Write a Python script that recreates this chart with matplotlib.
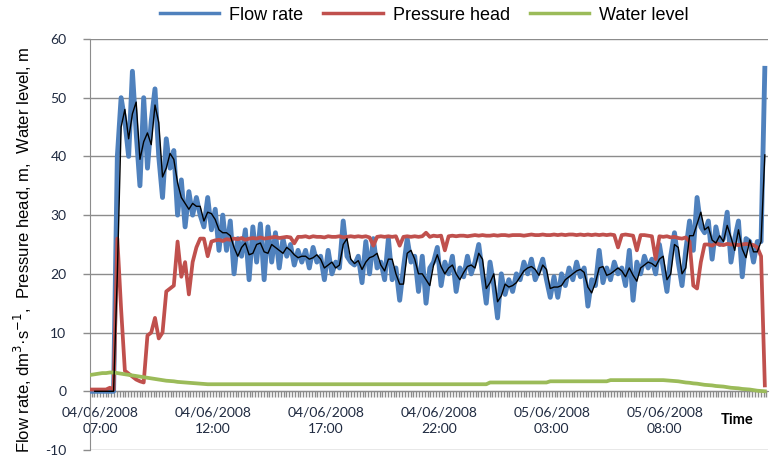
import numpy as np
import matplotlib.pyplot as plt
from matplotlib.ticker import MultipleLocator, FixedLocator

plt.rcParams['axes.unicode_minus'] = False

# readings every 10 min, first one at 06:36 on 04/06/2008 (hours counted from 07:00)
start_hour = -0.4
step_hour = 1 / 6

flow_rate = [
    0, 0, 0, 0, 0, 0, 0, 40, 50, 46,
    40, 54.5, 44, 35, 50, 38, 46, 51.5, 40, 33,
    43, 38, 41, 30, 36, 28, 34, 30, 33, 30,
    28, 33, 27.5, 31, 24, 30, 24, 29, 20, 26,
    23, 27.5, 19, 28, 22, 28.5, 19, 28, 22, 27,
    21, 26, 23, 25, 21.5, 24, 22, 24, 21, 24.5,
    22, 23, 19, 24, 20, 22, 21, 29, 23, 22,
    21.5, 23, 18.5, 25.5, 20, 26, 21, 22, 19, 26,
    19, 21, 15.5, 21, 26, 22, 23, 17, 23, 15,
    21, 22, 24.5, 18, 22, 20, 23, 17, 21, 19.5,
    23, 20, 22, 25, 20, 15, 22, 18, 12.5, 20,
    16.5, 19, 17, 20, 19, 22, 20, 22.5, 19, 20.5,
    22.5, 19, 16, 19.5, 16, 20, 18, 21, 19, 22,
    19.5, 21, 14.5, 19, 18, 24, 18.5, 21, 19, 22,
    20, 21, 18, 24, 15.5, 22, 20, 23, 21, 22.5,
    20, 25, 21, 17, 23, 27, 22, 18, 24, 29,
    24, 33, 28, 27, 29, 22.5, 28, 25, 26, 30.5,
    22, 26, 29, 19.5, 26, 25.5, 22, 25.5, 25.5, 55,
]

pressure_head = [
    0.3, 0.3, 0.3, 0.3, 0.3, 0.6, 0.3, 26, 14, 3.5,
    3, 2.5, 2, 1.7, 1.5, 9.5, 10, 12.5, 9, 10,
    17, 17.5, 18, 25.5, 19.5, 22, 16.5, 22, 24.5, 26,
    26, 23, 25.5, 25.7, 25.8, 25.6, 25.9, 25.8, 26, 25.9,
    26.1, 25.8, 26, 26.1, 26, 26.2, 26, 26.1, 26.2, 26.3,
    26.1, 26.2, 26.3, 26.2, 25.2, 26.3, 26.3, 26.4, 26.2, 26.4,
    26.3, 26.3, 26.2, 26.4, 26.3, 26.3, 26.4, 26.2, 26.3, 26.4,
    26.3, 26.4, 26.3, 26.4, 26.2, 24.8, 26.3, 26.4, 26.3, 26.4,
    26.3, 26.4, 24.8, 26.3, 26.4, 26.3, 26.4, 26.3, 26.4, 27,
    26.3, 26.5, 26.4, 26.5, 24, 26.4, 26.5, 26.4, 26.5, 26.5,
    26.4, 26.5, 26.6, 26.5, 26.6, 26.5, 26.5, 26.6, 26.5, 26.6,
    26.6, 26.5, 26.6, 26.6, 26.6, 26.5, 26.6, 26.7, 26.6, 26.6,
    26.7, 26.6, 26.6, 26.7, 26.6, 26.7, 26.6, 26.7, 26.7, 26.6,
    26.7, 26.6, 26.7, 26.6, 26.7, 26.6, 26.7, 26.6, 26.7, 26.6,
    24.5, 26.6, 26.7, 26.6, 26.5, 24, 26.6, 26.6, 26.5, 26.4,
    22.5, 26.4, 26.3, 26.4, 26.2, 26.3, 26.1, 26, 26.2, 25.5,
    18, 17.5, 22, 25, 25, 24.8, 25.2, 25, 24.9, 25.1,
    25, 25, 24.9, 25, 25.1, 25, 24.9, 24.5, 23, 1,
]

water_level = (
    [2.8, 2.9, 3.0, 3.1, 3.1, 3.2, 3.2, 3.1, 3.0, 2.9,
     2.8, 2.7, 2.6, 2.5, 2.4, 2.3, 2.2, 2.1, 2.0, 1.9,
     1.8, 1.75, 1.7, 1.6, 1.55, 1.5, 1.45, 1.4, 1.35, 1.3,
     1.25]
    + [1.2] * 75
    + [1.5] * 16
    + [1.7] * 16
    + [1.9] * 15
    + [1.85, 1.8, 1.75, 1.7, 1.6, 1.5, 1.45, 1.35, 1.3, 1.2,
       1.1, 1.05, 1.0, 0.9, 0.85, 0.8, 0.7, 0.6, 0.55, 0.5,
       0.4, 0.35, 0.3, 0.2, 0.1, 0.05, 0]
)

tick_hours = [0, 5, 10, 15, 20, 25]
tick_labels = ['04/06/2008\n07:00', '04/06/2008\n12:00', '04/06/2008\n17:00',
               '04/06/2008\n22:00', '05/06/2008\n03:00', '05/06/2008\n08:00']

flow = np.array(flow_rate)
hours = start_hour + np.arange(len(flow)) * step_hour
# 2-period moving average (the black trend line)
flow_ma = (flow[1:] + flow[:-1]) / 2

blue = '#4F81BD'
red = '#C0504D'
green = '#9BBB59'
grid_c = '#8C8C8C'
txt_c = '#1F2A40'

fig = plt.figure(figsize=(7.7, 4.59), dpi=100)
ax = fig.add_axes([0.117, 0.0196, 0.88, 0.8955])

l1, = ax.plot(hours, flow, color=blue, lw=3.5, solid_joinstyle='round', zorder=3, label='Flow rate')
l2, = ax.plot(hours, pressure_head, color=red, lw=2.7, solid_joinstyle='round', zorder=4, label='Pressure head')
l3, = ax.plot(hours, water_level, color=green, lw=2.7, zorder=5, label='Water level')
ax.plot(hours[1:], flow_ma, color='black', lw=1.0, zorder=6)

ax.set_xlim(-0.44, 29.56)
ax.set_ylim(-10, 60)
ax.yaxis.set_major_locator(MultipleLocator(10))
ax.grid(axis='y', color=grid_c, lw=1.0)
ax.set_axisbelow(True)

for s in ['top', 'right']:
    ax.spines[s].set_visible(False)
ax.spines['left'].set_color(grid_c)
ax.spines['bottom'].set_color(grid_c)
ax.spines['bottom'].set_position(('data', 0))
ax.spines['bottom'].set_zorder(2)

ax.xaxis.set_major_locator(FixedLocator(tick_hours))
ax.set_xticklabels(tick_labels)
ax.xaxis.set_minor_locator(MultipleLocator(0.125))
ax.tick_params(axis='x', which='both', direction='out', length=4, width=1, color=grid_c)
ax.tick_params(axis='x', which='major', pad=7, labelsize=10, labelcolor=txt_c)
ax.tick_params(axis='y', direction='out', length=5, width=1, color=grid_c, pad=12,
               labelsize=10, labelcolor=txt_c)
for lab in ax.get_xticklabels() + ax.get_yticklabels():
    lab.set_fontfamily('Lato')
for lab in ax.get_xticklabels():
    lab.set_linespacing(1.45)

ax.text(28.2, -4.9, 'Time', fontfamily='Lato', fontweight='bold', fontsize=10.5,
        color='black', ha='center', va='center')

fig.text(0.03, 0.455, 'Flow rate, dm$^3$·s$^{-1}$,  Pressure head, m,  Water level, m',
         rotation=90, ha='center', va='center', fontsize=12, family='Liberation Sans')

leg = fig.legend(handles=[l1, l2, l3], loc='center', bbox_to_anchor=(0.551, 0.967), ncol=3,
                 frameon=False, prop={'family': 'Liberation Sans', 'size': 13},
                 handlelength=3.3, handletextpad=0.55, columnspacing=1.1)
for h in leg.get_lines():
    h.set_linewidth(2.5)

fig.savefig('out.png', dpi=100)
